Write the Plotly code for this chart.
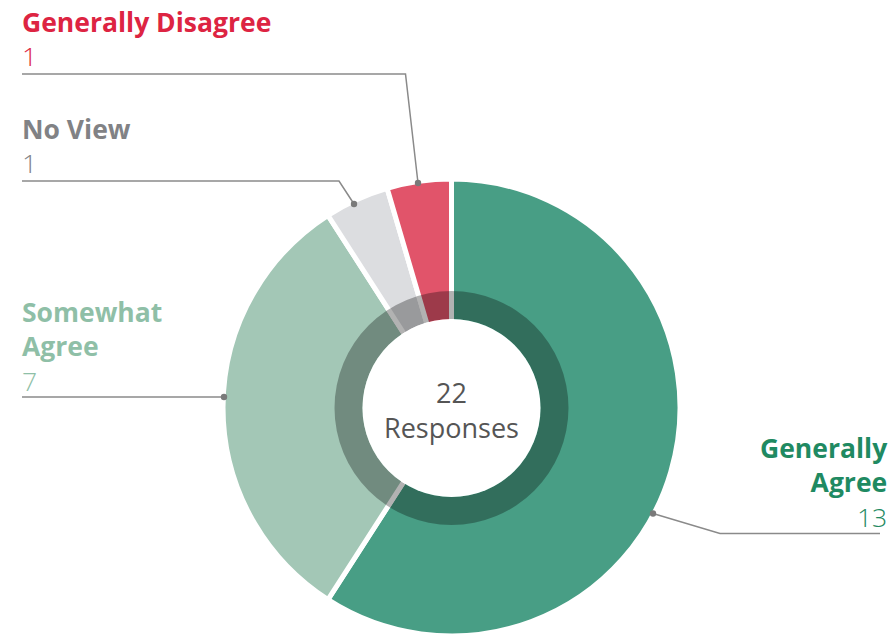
import plotly.graph_objects as go

# Survey results
categories = ["Generally Agree", "Somewhat Agree", "No View", "Generally Disagree"]
counts = [13, 7, 1, 1]
slice_colors = ["#489e85", "#a3c7b6", "#dcdde0", "#e1546a"]
label_colors = ["#1f8a62", "#8fbfa7", "#818285", "#dd2442"]
total = sum(counts)

W, H = 893, 636
CX, CY = 451.5, 408.0      # donut centre (px, from top)
R_OUT = 229.0              # outer radius incl. white separator stroke
R_RING = 117.0             # dark inner band outer radius
R_HOLE = 89.0              # white centre radius

ASC = 1.069                # Open Sans ascender / em
LINE = 1.3                 # plotly line spacing / em


def px(x):
    return x / W


def py(y):
    return 1 - y / H


def block_top(baselines, fs):
    """Top of a text block whose evenly spaced baselines best fit the given ones."""
    n = len(baselines)
    mean = sum(baselines) / n
    first = mean - (n - 1) * LINE * fs / 2
    return first - ASC * fs - 1


fig = go.Figure()

# Main donut
fig.add_trace(go.Pie(
    labels=categories,
    values=counts,
    sort=False,
    direction="clockwise",
    rotation=0,
    hole=0.3,
    marker=dict(colors=slice_colors, line=dict(color="white", width=5)),
    textinfo="none",
    hoverinfo="label+value",
    showlegend=False,
    domain=dict(x=[px(CX - R_OUT), px(CX + R_OUT)], y=[max(0, py(CY + R_OUT)), py(CY - R_OUT)]),
))

# Translucent dark band around the centre
fig.add_trace(go.Pie(
    values=[1],
    hole=R_HOLE / R_RING,
    marker=dict(colors=["rgba(0,0,0,0.3)"], line=dict(width=0)),
    textinfo="none",
    hoverinfo="skip",
    showlegend=False,
    sort=False,
    domain=dict(x=[px(CX - R_RING), px(CX + R_RING)], y=[py(CY + R_RING), py(CY - R_RING)]),
))

shapes = [
    dict(type="circle", xref="paper", yref="paper", layer="above",
         x0=px(CX - R_HOLE), x1=px(CX + R_HOLE), y0=py(CY + R_HOLE), y1=py(CY - R_HOLE),
         fillcolor="white", line=dict(width=0)),
]

CFS = 27
annotations = [
    dict(text=f"{total}<br>Responses", x=px(CX), y=py(block_top([402.5, 436], CFS)),
         showarrow=False, xref="paper", yref="paper",
         xanchor="center", yanchor="top", align="center",
         font=dict(family="Open Sans", size=CFS, color="#555555")),
]

# Label blocks: title lines, their baselines, number baseline, x, alignment, leader path
label_blocks = [
    dict(idx=3, lines=["Generally Disagree"], bases=[33, 65], x=20, align="left",
         path=[(22, 74), (405.5, 74), (418, 183)]),
    dict(idx=2, lines=["No View"], bases=[139, 171.5], x=20, align="left",
         path=[(22, 181), (339, 181), (354, 204)]),
    dict(idx=1, lines=["Somewhat", "Agree"], bases=[325, 355, 388], x=20, align="left",
         path=[(22, 397), (224, 397)]),
    dict(idx=0, lines=["Generally", "Agree"], bases=[458.5, 492.5, 525], x=890, align="right",
         path=[(880, 533.5), (720, 533.5), (653, 513.5)]),
]

FS = 26.5
for b in label_blocks:
    col = label_colors[b["idx"]]
    anchor = b["align"]
    parts = [f"<b>{line}</b>" for line in b["lines"]]
    parts.append(f'<span style="font-weight:300">{counts[b["idx"]]}</span>')
    annotations.append(dict(
        text="<br>".join(parts), x=px(b["x"]), y=py(block_top(b["bases"], FS)),
        xref="paper", yref="paper", showarrow=False,
        xanchor=anchor, yanchor="top", align=anchor,
        font=dict(family="Open Sans", size=FS, color=col)))
    pts = b["path"]
    d = "M " + " L ".join(f"{px(x)},{py(y)}" for x, y in pts)
    shapes.append(dict(type="path", path=d, xref="paper", yref="paper", layer="above",
                       line=dict(color="#8a8a8a", width=1.5)))
    ex, ey = pts[-1]
    r = 3.2
    shapes.append(dict(type="circle", xref="paper", yref="paper", layer="above",
                       x0=px(ex - r), x1=px(ex + r), y0=py(ey + r), y1=py(ey - r),
                       fillcolor="#7a7a7a", line=dict(width=0)))

fig.update_layout(
    width=W, height=H,
    margin=dict(l=0, r=0, t=0, b=0),
    paper_bgcolor="white",
    plot_bgcolor="white",
    shapes=shapes,
    annotations=annotations,
    showlegend=False,
)

fig.write_html("out.html")
